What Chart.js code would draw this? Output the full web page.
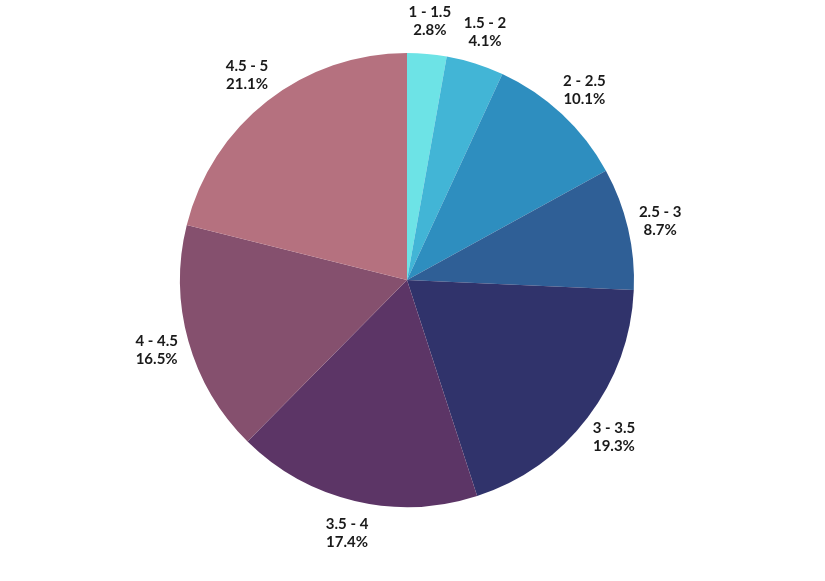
<!DOCTYPE html>
<html><head><meta charset="utf-8">
<script src="https://cdn.jsdelivr.net/npm/chart.js@4/dist/chart.umd.min.js"></script>
<style>html,body{margin:0;padding:0;background:#fff}#w{width:825px;height:581px}</style>
</head><body><div id="w"><canvas id="c"></canvas></div>
<script>
const categories = ["1 - 1.5","1.5 - 2","2 - 2.5","2.5 - 3","3 - 3.5","3.5 - 4","4 - 4.5","4.5 - 5"];
const values = [2.8,4.1,10.1,8.7,19.3,17.4,16.5,21.1];
const colors = ["#6de3e6","#42b5d6","#2e8ebf","#2f5f96","#30336b","#5c3566","#85506e","#b5717f"];
const labelPlugin = {
  id:'outLabels',
  afterDatasetsDraw(chart){
    const ctx = chart.ctx;
    const meta = chart.getDatasetMeta(0);
    ctx.save();
    ctx.fillStyle = '#1a1a1a';
    ctx.font = 'bold 15px Lato, "Open Sans", sans-serif';
    ctx.textAlign = 'center';
    ctx.textBaseline = 'middle';
    meta.data.forEach((arc,i)=>{
      const a = (arc.startAngle+arc.endAngle)/2;
      const r = arc.outerRadius + 33;
      const x = arc.x + Math.cos(a)*r, y = arc.y + Math.sin(a)*r;
      ctx.fillText(categories[i], x, y-9);
      ctx.fillText(values[i].toFixed(1)+'%', x, y+9);
    });
    ctx.restore();
  }
};
new Chart(document.getElementById('c'),{
  type:'pie',
  data:{labels:categories,datasets:[{data:values,backgroundColor:colors,borderWidth:0}]},
  options:{responsive:true,maintainAspectRatio:false,animation:false,
    layout:{padding:{top:53,bottom:74,left:0,right:11}},
    plugins:{legend:{display:false},tooltip:{enabled:false}}},
  plugins:[labelPlugin]
});
</script></body></html>
